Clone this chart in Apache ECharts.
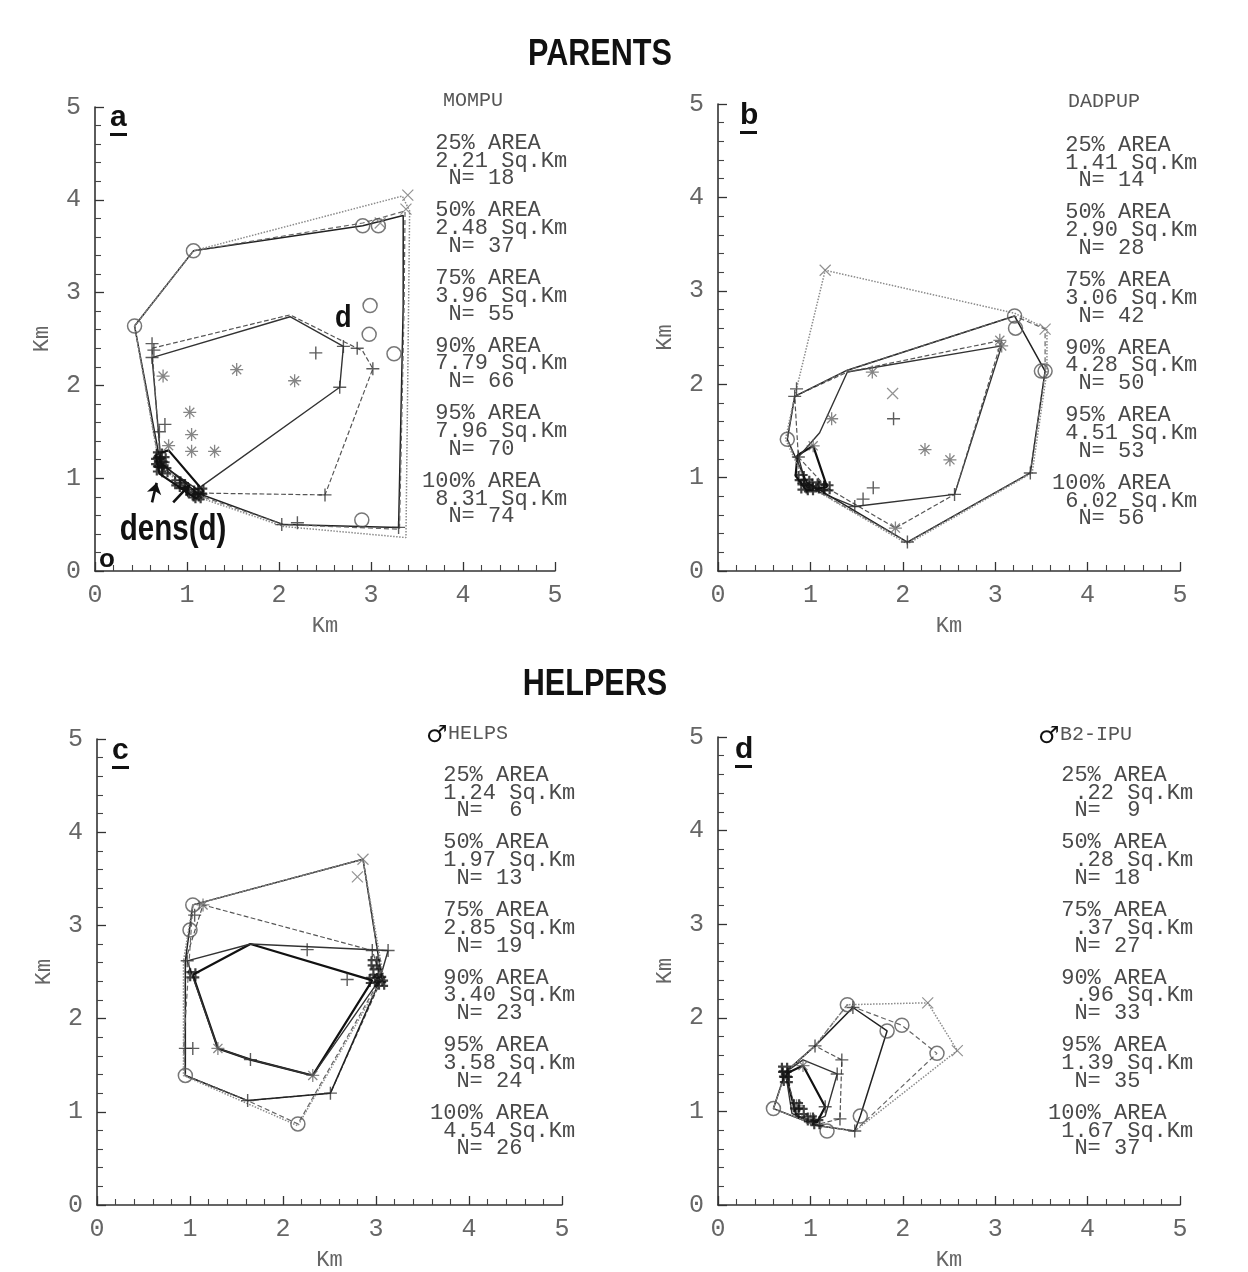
<!DOCTYPE html>
<html>
<head>
<meta charset="utf-8">
<script src="https://cdn.jsdelivr.net/npm/echarts@6/dist/echarts.min.js"></script>
<style>
html, body { margin: 0; background: #fff; }
#main { width: 1248px; height: 1272px; }
</style>
</head>
<body>
<div id="main"></div>
<script>
// axis ticks (km)
var kmTicks = [0, 1, 2, 3, 4, 5];
var hullLevels = [25, 50, 75, 90, 95, 100];

// ---- a: MOMPU ----
var momHulls = [
  [[0.66,1.26],[0.80,1.30],[1.18,0.86],[1.10,0.78],[0.70,1.05],[0.66,1.26]],
  [[0.62,2.30],[2.12,2.74],[2.70,2.42],[2.66,1.98],[1.11,0.88],[0.72,1.15],[0.62,2.30]],
  [[0.62,2.40],[2.12,2.76],[2.91,2.37],[3.02,2.18],[2.50,0.82],[1.11,0.84],[0.71,1.17],[0.62,2.40]],
  [[0.43,2.64],[1.07,3.45],[2.91,3.72],[3.35,3.83],[3.35,2.86],[3.30,0.47],[2.05,0.50],[1.11,0.84],[0.71,1.17],[0.43,2.64]],
  [[0.43,2.64],[1.07,3.45],[2.91,3.75],[3.37,3.88],[3.36,2.86],[3.31,0.45],[2.05,0.50],[1.11,0.82],[0.70,1.15],[0.43,2.64]],
  [[0.43,2.64],[1.07,3.45],[3.34,4.04],[3.42,3.88],[3.38,0.36],[2.05,0.48],[1.11,0.80],[0.70,1.13],[0.43,2.64]]
];
var momPlus = [[0.62,2.30],[0.62,2.45],[0.64,2.38],[2.40,2.35],[2.70,2.42],[2.85,2.40],[2.66,1.98],[3.02,2.18],[2.50,0.82],[2.03,0.50],[2.20,0.52],[3.30,0.47],[0.76,1.58],[0.70,1.50]];
var momStar = [[1.54,2.17],[2.17,2.05],[1.03,1.71],[1.05,1.47],[1.05,1.29],[1.30,1.29],[0.74,2.10],[0.80,1.35]];
var momCircle = [[0.43,2.64],[1.07,3.45],[2.91,3.72],[3.08,3.72],[2.99,2.86],[3.25,2.34],[2.90,0.55],[2.98,2.55]];
var momCross = [[3.40,4.05],[3.38,3.90],[3.10,3.75]];
var momDense = [[0.70,1.10],[0.72,1.15],[0.74,1.20],[0.70,1.25],[0.76,1.08],[0.68,1.18],[1.05,0.85],[1.10,0.82],[1.15,0.86],[1.12,0.80],[0.95,0.92],[0.90,0.95]];
var momStats = [[25,'2.21',18],[50,'2.48',37],[75,'3.96',55],[90,'7.79',66],[95,'7.96',70],[100,'8.31',74]];
var densArrows = [[[0.62,0.74],[0.67,0.95]],[[0.85,0.74],[1.03,0.93]]];

// ---- b: DADPUP ----
var dadHulls = [
  [[0.86,1.24],[1.03,1.34],[1.18,0.90],[0.96,0.86],[0.84,1.02],[0.86,1.24]],
  [[0.87,1.22],[1.10,1.48],[1.40,2.13],[3.07,2.41],[2.56,0.82],[1.48,0.69],[0.96,0.90],[0.87,1.22]],
  [[0.83,1.87],[1.40,2.13],[3.07,2.47],[2.56,0.82],[1.92,0.46],[1.18,0.89],[0.87,1.22],[0.83,1.87]],
  [[0.83,1.87],[1.40,2.15],[3.21,2.73],[3.54,2.14],[3.38,1.05],[2.05,0.31],[0.96,0.95],[0.75,1.41],[0.83,1.87]],
  [[0.83,1.87],[1.40,2.15],[3.21,2.73],[3.54,2.59],[3.54,2.14],[3.38,1.05],[2.05,0.31],[0.96,0.92],[0.75,1.41],[0.83,1.87]],
  [[0.83,1.87],[1.16,3.22],[3.21,2.76],[3.56,2.59],[3.56,2.14],[3.40,1.05],[2.05,0.29],[0.96,0.92],[0.73,1.41],[0.83,1.87]]
];
var dadPlus = [[0.83,1.87],[0.87,1.22],[1.90,1.63],[2.56,0.82],[1.68,0.89],[1.57,0.77],[1.48,0.69],[2.05,0.31],[3.38,1.05],[0.85,1.95]];
var dadStar = [[1.03,1.34],[1.23,1.63],[2.24,1.30],[2.51,1.19],[1.92,0.46],[1.67,2.13],[3.07,2.41],[3.05,2.47]];
var dadCircle = [[0.75,1.41],[3.21,2.73],[3.54,2.14],[3.50,2.14],[3.22,2.60]];
var dadCross = [[1.16,3.22],[3.54,2.59],[1.89,1.90]];
var dadDense = [[0.90,1.00],[0.96,0.95],[1.00,0.88],[0.93,0.90],[1.12,0.90],[1.18,0.89],[1.05,0.92]];
var dadStats = [[25,'1.41',14],[50,'2.90',28],[75,'3.06',42],[90,'4.28',50],[95,'4.51',53],[100,'6.02',56]];

// ---- c: HELPS ----
var helpHulls = [
  [[1.03,2.47],[1.65,2.80],[2.96,2.41],[2.32,1.39],[1.65,1.56],[1.30,1.68],[1.03,2.47]],
  [[0.97,2.62],[1.65,2.80],[3.13,2.73],[3.04,2.42],[2.32,1.39],[1.65,1.56],[1.30,1.68],[0.97,2.62]],
  [[0.95,2.62],[1.14,3.22],[2.96,2.73],[3.06,2.42],[2.51,1.20],[1.62,1.12],[0.95,1.39],[0.95,2.62]],
  [[1.03,3.22],[2.86,3.71],[3.06,2.45],[2.51,1.20],[1.62,1.12],[0.95,1.39],[0.95,2.62],[1.03,3.22]],
  [[1.03,3.22],[2.86,3.71],[3.06,2.45],[2.16,0.87],[1.62,1.12],[0.95,1.39],[0.93,1.68],[1.03,3.22]],
  [[1.03,3.22],[2.86,3.71],[3.08,2.45],[2.16,0.85],[0.93,1.39],[0.93,2.62],[1.03,3.22]]
];
var helpPlus = [[0.97,2.62],[1.05,3.11],[0.95,1.68],[1.03,1.68],[1.65,1.56],[1.62,1.12],[2.51,1.20],[2.26,2.74],[2.69,2.42],[2.96,2.73],[3.13,2.73]];
var helpStar = [[1.14,3.22],[1.30,1.68],[2.32,1.39]];
var helpCircle = [[1.03,3.22],[1.00,2.95],[0.95,1.39],[2.16,0.87]];
var helpCross = [[2.86,3.71],[2.80,3.52]];
var helpDense = [[1.03,2.47],[3.04,2.42],[2.96,2.41],[3.00,2.50],[2.98,2.60],[3.06,2.38]];
var helpStats = [[25,'1.24',6],[50,'1.97',13],[75,'2.85',19],[90,'3.40',23],[95,'3.58',24],[100,'4.54',26]];

// ---- d: B2-IPU ----
var b2Hulls = [
  [[0.73,1.40],[0.92,1.49],[1.16,1.05],[1.07,0.88],[0.85,0.95],[0.73,1.40]],
  [[0.73,1.42],[0.92,1.55],[1.29,1.40],[1.16,0.95],[1.00,0.88],[0.80,0.98],[0.73,1.42]],
  [[0.73,1.42],[1.05,1.70],[1.34,1.55],[1.32,0.92],[1.07,0.86],[0.85,0.98],[0.73,1.42]],
  [[0.73,1.42],[1.05,1.70],[1.46,2.11],[1.83,1.86],[1.54,0.95],[1.48,0.79],[1.07,0.85],[0.60,1.03],[0.73,1.42]],
  [[0.73,1.42],[1.05,1.70],[1.40,2.14],[1.99,1.92],[2.37,1.62],[1.48,0.79],[1.07,0.85],[0.60,1.03],[0.73,1.42]],
  [[0.60,1.03],[0.73,1.42],[1.05,1.70],[1.40,2.14],[2.27,2.16],[2.59,1.65],[1.48,0.79],[1.07,0.85],[0.60,1.03]]
];
var b2Plus = [[1.46,2.11],[1.05,1.70],[1.34,1.55],[1.29,1.40],[1.16,1.05],[1.48,0.79],[1.32,0.92]];
var b2Star = [[0.92,1.49],[0.85,1.06],[1.00,0.92]];
var b2Circle = [[1.40,2.14],[1.99,1.92],[1.83,1.86],[2.37,1.62],[0.60,1.03],[1.54,0.95],[1.18,0.79]];
var b2Cross = [[2.27,2.16],[2.59,1.65]];
var b2Dense = [[0.73,1.40],[0.74,1.34],[0.72,1.45],[0.85,1.06],[0.90,1.00],[1.00,0.92],[1.07,0.88]];
var b2Stats = [[25,'.22',9],[50,'.28',18],[75,'.37',27],[90,'.96',33],[95,'1.39',35],[100,'1.67',37]];

var panels = [
  {letter:'a', name:'MOMPU', male:false, hulls:momHulls, plus:momPlus, star:momStar, circle:momCircle, cross:momCross, dense:momDense, stats:momStats,
   grid:{left:95, top:107, width:460, height:464}, col0:422, nameX:443, nameY:101, statY:143, letterX:110, letterY:118},
  {letter:'b', name:'DADPUP', male:false, hulls:dadHulls, plus:dadPlus, star:dadStar, circle:dadCircle, cross:dadCross, dense:dadDense, stats:dadStats,
   grid:{left:718, top:104, width:462, height:467}, col0:1052, nameX:1068, nameY:102, statY:145, letterX:740, letterY:116},
  {letter:'c', name:'HELPS', male:true, hulls:helpHulls, plus:helpPlus, star:helpStar, circle:helpCircle, cross:helpCross, dense:helpDense, stats:helpStats,
   grid:{left:97, top:739, width:465, height:467}, col0:430, nameX:426, nameY:734, statY:775, letterX:112, letterY:751},
  {letter:'d', name:'B2-IPU', male:true, hulls:b2Hulls, plus:b2Plus, star:b2Star, circle:b2Circle, cross:b2Cross, dense:b2Dense, stats:b2Stats,
   grid:{left:718, top:737, width:462, height:468}, col0:1048, nameX:1038, nameY:735, statY:775, letterX:735, letterY:750}
];

var hullStyles = [
  {color:'#111', width:2.2, type:'solid'},
  {color:'#333', width:1.4, type:'solid'},
  {color:'#555', width:1.2, type:'dashed'},
  {color:'#222', width:1.5, type:'solid'},
  {color:'#666', width:1.2, type:[5,3]},
  {color:'#8a8a8a', width:1.5, type:'dotted'}
];

var SYM_PLUS = 'path://M0,5H10M5,0V10';
var SYM_STAR = 'path://M0,5H10M5,0V10M1.5,1.5L8.5,8.5M8.5,1.5L1.5,8.5';
var SYM_CROSS = 'path://M0,0L10,10M10,0L0,10';
var SYM_HASH = 'path://M3,0V10M7,0V10M0,3H10M0,7H10';

var myChart = echarts.init(document.getElementById('main'));

var grids = [], xAxes = [], yAxes = [], series = [];
var monoFont = '"Liberation Mono", "DejaVu Sans Mono", monospace';
var boldFont = '"Liberation Sans", "DejaVu Sans", sans-serif';

panels.forEach(function (p, i) {
  grids.push(p.grid);
  var common = {
    gridIndex: i, type: 'value', min: kmTicks[0], max: kmTicks[kmTicks.length - 1], interval: 1,
    axisLine: {show: true, onZero: false, lineStyle: {color: '#333', width: 1.6}},
    axisTick: {show: true, inside: true, length: 9, lineStyle: {color: '#333', width: 1.3}},
    minorTick: {show: true, splitNumber: 5, length: 6, lineStyle: {color: '#444', width: 1.1}},
    splitLine: {show: false},
    name: 'Km', nameLocation: 'middle',
    nameTextStyle: {fontFamily: monoFont, fontSize: 22, color: '#666'}
  };
  xAxes.push(Object.assign({}, common, {
    nameGap: 44,
    axisLabel: {fontFamily: monoFont, fontSize: 25, color: '#666', margin: 12}
  }));
  yAxes.push(Object.assign({}, common, {
    nameGap: 42,
    axisLabel: {fontFamily: monoFont, fontSize: 25, color: '#666', margin: 14, padding: [0, 0, 14, 0]}
  }));

  p.hulls.forEach(function (h, k) {
    var s = {
      type: 'line', xAxisIndex: i, yAxisIndex: i, name: p.name + ' ' + hullLevels[k] + '%',
      data: h, showSymbol: false, silent: true, z: 2,
      lineStyle: hullStyles[k]
    };
    if (i === 0 && k === 0) {
      s.markLine = {
        silent: true, symbol: ['none', 'arrow'], symbolSize: 11,
        lineStyle: {color: '#111', width: 2.6, type: 'solid'},
        label: {show: false},
        data: densArrows.map(function (a) { return [{coord: a[0]}, {coord: a[1]}]; })
      };
    }
    series.push(s);
  });

  function pts(data, symbol, size, color, bw) {
    series.push({
      type: 'scatter', xAxisIndex: i, yAxisIndex: i, data: data, symbol: symbol, symbolSize: size,
      silent: true, z: 3,
      itemStyle: {color: 'rgba(255,255,255,0)', borderColor: color, borderWidth: bw}
    });
  }
  pts(p.plus, SYM_PLUS, 13, '#333', 1.4);
  pts(p.star, SYM_STAR, 13, '#666', 1.3);
  pts(p.circle, 'circle', 14, '#555', 1.5);
  pts(p.cross, SYM_CROSS, 11, '#777', 1.2);
  pts(p.dense, SYM_HASH, 13, '#111', 2.2);
});

myChart.setOption({
  animation: false,
  backgroundColor: '#fff',
  grid: grids,
  xAxis: xAxes,
  yAxis: yAxes,
  series: series
});

function pad(s, n) { s = String(s); while (s.length < n) s = ' ' + s; return s; }

var graphic = [];
function txt(x, y, text, font, fill, align, sx) {
  graphic.push({type: 'text', x: x, y: y, scaleX: sx || 1, silent: true,
    style: {text: text, font: font, fill: fill, align: align || 'left', verticalAlign: 'middle'}});
}

txt(600, 55, 'PARENTS', 'bold 36px ' + boldFont, '#111', 'center', 0.85);
txt(595, 685, 'HELPERS', 'bold 36px ' + boldFont, '#111', 'center', 0.85);

panels.forEach(function (p) {
  // panel letter with underline
  txt(p.letterX, p.letterY, p.letter, 'bold 30px ' + boldFont, '#111');
  graphic.push({type: 'rect', silent: true, shape: {x: p.letterX, y: p.letterY + 15, width: 17, height: 3}, style: {fill: '#111'}});
  // header
  if (p.male) {
    txt(p.nameX, p.nameY + 2, '\u2642', 'bold 24px "DejaVu Sans", sans-serif', '#111');
    txt(p.nameX + 22, p.nameY, p.name, '20px ' + monoFont, '#555');
  } else {
    txt(p.nameX, p.nameY, p.name, '20px ' + monoFont, '#555');
  }
  // stats
  p.stats.forEach(function (s, b) {
    var y0 = p.statY + b * 67.6;
    var lines = [
      (s[0] === 100 ? '' : ' ') + s[0] + '% AREA',
      pad(s[1], 5) + ' Sq.Km',
      '  N=' + pad(s[2], 3)
    ];
    lines.forEach(function (l, j) {
      txt(p.col0, y0 + j * 17.8, l, '22px ' + monoFont, '#4a4a4a');
    });
  });
});

// annotations in panel a, placed through the panel's own scales
var dPos = myChart.convertToPixel({gridIndex: 0}, [2.70, 2.72]);
var densPos = myChart.convertToPixel({gridIndex: 0}, [0.27, 0.44]);
var oPos = myChart.convertToPixel({gridIndex: 0}, [0.13, 0.12]);
txt(dPos[0], dPos[1], 'd', 'bold 32px ' + boldFont, '#111', 'center', 0.85);
txt(densPos[0], densPos[1], 'dens(d)', 'bold 36px ' + boldFont, '#111', 'left', 0.82);
txt(oPos[0], oPos[1], 'o', 'bold 26px ' + boldFont, '#111', 'center');

myChart.setOption({graphic: graphic});
</script>
</body>
</html>
